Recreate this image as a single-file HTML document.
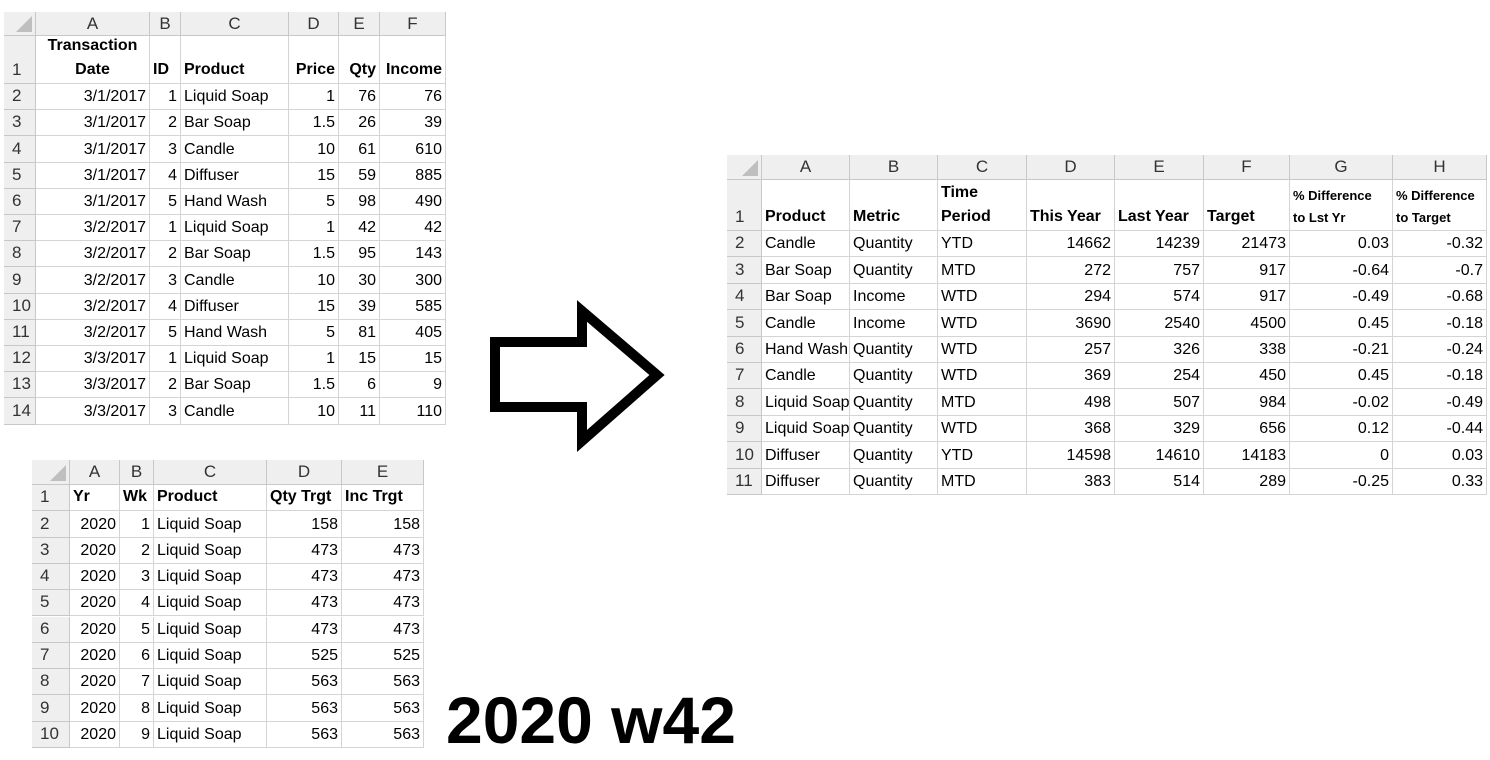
<!DOCTYPE html>
<html><head><meta charset="utf-8">
<style>
body{margin:0;width:1490px;height:756px;background:#fff;position:relative;overflow:hidden;font-family:"Liberation Sans",sans-serif;}
.sheet{position:absolute;}
.c{position:absolute;box-sizing:border-box;border-right:1px solid #d4d4d4;border-bottom:1px solid #d4d4d4;font-size:16px;color:#000;white-space:nowrap;overflow:hidden;padding:0 3px;display:flex;align-items:flex-end;padding-bottom:3px;}
.h{background:#efefef;color:#333;justify-content:center;align-items:center;padding:0;border-color:#c8c8c8;font-size:17px;}
.rn{background:#efefef;color:#333;justify-content:flex-start;padding-left:8px;border-color:#c8c8c8;font-size:17px;}
.r{justify-content:flex-end;}
.b{font-weight:bold;white-space:pre-line;line-height:24px;padding-bottom:1px;}
.s{font-size:13px;line-height:22px;}
.ctr{text-align:center;justify-content:center;}
.corner{background:#efefef;}
.corner:after{content:"";position:absolute;right:3px;bottom:3px;border-left:16px solid transparent;border-bottom:16px solid #bfbfbf;}
</style></head>
<body>
<div id="s1" class="sheet"></div>
<div id="s2" class="sheet"></div>
<div id="s3" class="sheet"></div>
<svg style="position:absolute;left:0;top:0" width="1490" height="756">
<polygon points="495,342 582,342 582,311 657,375 582,441 582,407 495,407" fill="none" stroke="#000" stroke-width="10" stroke-linejoin="miter"/>
</svg>
<div style="position:absolute;left:446px;top:680px;font-size:66px;font-weight:bold;line-height:80px;">2020 w42</div>
<script>
function build(id,x0,y0,cols,rows,hdrH,letters,data,rightCols,boldRow1Cls){
  var s=document.getElementById(id);
  var xs=[x0];for(var i=0;i<cols.length;i++)xs.push(xs[i]+cols[i]);
  function cell(x,y,w,h,cls,txt,name){
    var d=document.createElement('div');
    d.className='c '+cls;
    d.style.left=x+'px';d.style.top=y+'px';d.style.width=w+'px';d.style.height=h+'px';
    d.textContent=txt;
    
    
    document.body.appendChild(d);
  }
  cell(xs[0],y0,cols[0],hdrH,'h corner','', 'select-all-corner');
  for(var i=0;i<letters.length;i++)cell(xs[i+1],y0,cols[i+1],hdrH,'h',letters[i],'column-header-'+letters[i].toLowerCase());
  var y=y0+hdrH;
  for(var r=0;r<data.length;r++){
    var h=rows[r];
    cell(xs[0],y,cols[0],h,'rn',String(r+1),'row-header-'+(r+1));
    for(var c=0;c<data[r].length;c++){
      var cls=r==0?('b '+(boldRow1Cls[c]||'')):(rightCols.indexOf(c)>=0?'r':'');
      cell(xs[c+1],y,cols[c+1],h,cls,data[r][c],'cell-'+letters[c].toLowerCase()+(r+1));
    }
    y+=h;
  }
}
var t1=[["Transaction\nDate","ID","Product","Price","Qty","Income"],
["3/1/2017","1","Liquid Soap","1","76","76"],["3/1/2017","2","Bar Soap","1.5","26","39"],["3/1/2017","3","Candle","10","61","610"],["3/1/2017","4","Diffuser","15","59","885"],["3/1/2017","5","Hand Wash","5","98","490"],["3/2/2017","1","Liquid Soap","1","42","42"],["3/2/2017","2","Bar Soap","1.5","95","143"],["3/2/2017","3","Candle","10","30","300"],["3/2/2017","4","Diffuser","15","39","585"],["3/2/2017","5","Hand Wash","5","81","405"],["3/3/2017","1","Liquid Soap","1","15","15"],["3/3/2017","2","Bar Soap","1.5","6","9"],["3/3/2017","3","Candle","10","11","110"]];
var rows1=[48];for(var i=0;i<13;i++)rows1.push(26.2);
build('s1',4,12,[32,114,31,108,50,41,66],rows1,24,["A","B","C","D","E","F"],t1,[0,1,3,4,5],{0:'ctr',3:'r',4:'r',5:'r'});
var t2=[["Yr","Wk","Product","Qty Trgt","Inc Trgt"],["2020","1","Liquid Soap","158","158"],["2020","2","Liquid Soap","473","473"],["2020","3","Liquid Soap","473","473"],["2020","4","Liquid Soap","473","473"],["2020","5","Liquid Soap","473","473"],["2020","6","Liquid Soap","525","525"],["2020","7","Liquid Soap","563","563"],["2020","8","Liquid Soap","563","563"],["2020","9","Liquid Soap","563","563"]];
var rows2=[];for(var i=0;i<10;i++)rows2.push(26.3);
build('s2',32,460,[38,50,34,113,75,82],rows2,25,["A","B","C","D","E"],t2,[0,1,3,4],{});
var t3=[["Product","Metric","Time\nPeriod","This Year","Last Year","Target","% Difference\nto Lst Yr","% Difference\nto Target"],
["Candle","Quantity","YTD","14662","14239","21473","0.03","-0.32"],["Bar Soap","Quantity","MTD","272","757","917","-0.64","-0.7"],["Bar Soap","Income","WTD","294","574","917","-0.49","-0.68"],["Candle","Income","WTD","3690","2540","4500","0.45","-0.18"],["Hand Wash","Quantity","WTD","257","326","338","-0.21","-0.24"],["Candle","Quantity","WTD","369","254","450","0.45","-0.18"],["Liquid Soap","Quantity","MTD","498","507","984","-0.02","-0.49"],["Liquid Soap","Quantity","WTD","368","329","656","0.12","-0.44"],["Diffuser","Quantity","YTD","14598","14610","14183","0","0.03"],["Diffuser","Quantity","MTD","383","514","289","-0.25","0.33"]];
var rows3=[51];for(var i=0;i<10;i++)rows3.push(26.4);
build('s3',727,155,[35,88,88,89,88,89,86,103,94],rows3,25,["A","B","C","D","E","F","G","H"],t3,[3,4,5,6,7],{6:'s',7:'s'});
</script>
</body></html>
